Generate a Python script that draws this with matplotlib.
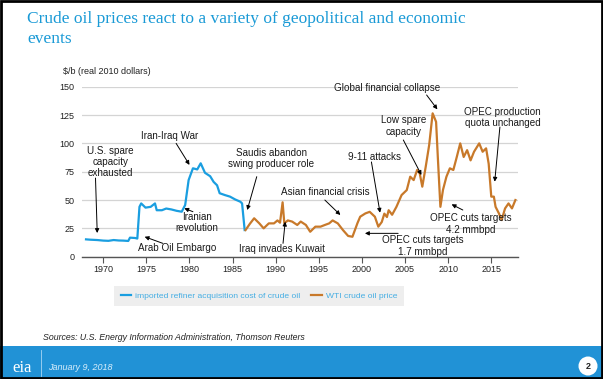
import matplotlib
matplotlib.use("Agg")
import matplotlib.pyplot as plt
from matplotlib.patches import Rectangle, Ellipse
from matplotlib.lines import Line2D

# ---------------- data ----------------
ira_years = [1968.0, 1968.5, 1969.3, 1970.0, 1970.6, 1971.2, 1971.8, 1972.3, 1972.9, 1973.1,
             1973.7, 1973.95, 1974.2, 1974.4, 1974.9, 1975.5, 1976.0, 1976.2, 1976.8, 1977.3,
             1977.9, 1978.5, 1979.1, 1979.5, 1979.9, 1980.4, 1980.9, 1981.3, 1981.8, 1982.4,
             1982.8, 1983.2, 1983.5, 1984.1, 1984.7, 1985.3, 1985.9, 1986.1, 1986.4]
ira_values = [15.3, 15.0, 14.7, 14.2, 14.0, 14.7, 14.3, 14.2, 13.9, 16.8,
              16.5, 16.0, 44.0, 47.0, 43.3, 44.0, 47.0, 41.0, 41.0, 42.5,
              41.7, 40.5, 39.7, 45.6, 67.6, 78.0, 77.0, 82.4, 74.0, 71.0,
              66.0, 63.0, 56.0, 54.4, 53.0, 50.5, 48.5, 47.0, 23.5]

wti_years = [1986.5, 1987.0, 1987.5, 1988.1, 1988.6, 1989.2, 1989.8, 1990.2, 1990.5, 1990.8,
             1991.0, 1991.4, 1991.9, 1992.5, 1992.9, 1993.5, 1994.0, 1994.6, 1995.2, 1995.7,
             1996.2, 1996.6, 1997.2, 1997.8, 1998.4, 1998.9, 1999.5, 1999.8, 2000.4, 2000.9,
             2001.5, 2001.9, 2002.3, 2002.6, 2002.9, 2003.1, 2003.5, 2004.0, 2004.6, 2005.2,
             2005.6, 2006.0, 2006.4, 2006.7, 2007.0, 2007.4, 2007.8, 2008.2, 2008.6, 2008.8,
             2009.1, 2009.4, 2009.8, 2010.2, 2010.6, 2011.0, 2011.4, 2011.8, 2012.2, 2012.6,
             2013.0, 2013.6, 2014.0, 2014.4, 2014.7, 2015.0, 2015.3, 2015.5, 2015.9, 2016.2,
             2016.6, 2017.0, 2017.4, 2017.8]
wti_values = [23.5, 29.0, 33.9, 29.4, 25.0, 29.4, 29.4, 32.0, 30.0, 48.0,
              29.4, 32.0, 31.0, 28.0, 31.0, 28.0, 22.0, 26.5, 26.5, 28.0,
              29.4, 32.0, 29.4, 23.5, 18.3, 17.6, 30.0, 35.3, 38.2, 39.6,
              35.3, 26.5, 30.6, 38.0, 35.0, 41.0, 37.0, 44.0, 54.4, 58.8,
              70.6, 67.6, 76.5, 73.5, 61.8, 79.5, 98.6, 126.5, 119.0, 88.0,
              44.0, 59.0, 70.6, 78.0, 76.5, 88.0, 100.0, 88.0, 94.0, 85.0,
              92.6, 100.0, 92.6, 95.6, 82.0, 53.0, 53.0, 44.0, 38.0, 32.3,
              42.6, 47.0, 42.6, 50.0]

x_ticks = [1970, 1975, 1980, 1985, 1990, 1995, 2000, 2005, 2010, 2015]
y_ticks = [0, 25, 50, 75, 100, 125, 150]

# (text, text position, arrow tail, arrow head)
annotations = [
    ("U.S. spare\ncapacity\nexhausted", (1970.8, 83.8), (1969.1, 69.4), (1969.3, 20.9)),
    ("Iran-Iraq War", (1977.7, 106.5), (1978.45, 100.0), (1980.0, 81.0)),
    ("Iranian\nrevolution", (1980.9, 30.4), (1980.4, 39.7), (1979.4, 42.7)),
    ("Arab Oil Embargo", (1978.6, 7.9), (1976.9, 11.8), (1974.8, 17.6)),
    ("Saudis abandon\nswing producer role", (1989.5, 86.6), (1987.8, 70.6), (1986.7, 41.2)),
    ("Iraq invades Kuwait", (1990.7, 6.8), (1990.85, 11.8), (1991.1, 30.9)),
    ("Asian financial crisis", (1995.7, 57.4), (1995.7, 50.0), (1997.5, 36.8)),
    ("9-11 attacks", (2001.5, 88.2), (2001.1, 83.6), (2002.1, 38.8)),
    ("OPEC cuts targets\n1.7 mmbpd", (2007.1, 9.4), (2004.2, 20.6), (2000.35, 20.6)),
    ("Low spare\ncapacity", (2004.8, 115.3), (2004.8, 103.0), (2006.9, 72.1)),
    ("Global financial collapse", (2002.9, 148.6), (2007.5, 142.7), (2008.75, 130.0)),
    ("OPEC production\nquota unchanged", (2016.3, 122.6), (2016.0, 114.4), (2015.4, 66.2)),
    ("OPEC cuts targets\n4.2 mmbpd", (2012.6, 28.9), (2011.7, 41.2), (2010.4, 46.2)),
]

BLUE = "#1a9ee0"
ORANGE = "#c8792a"
SANS = "Liberation Sans"

W, H = 603, 379
fig = plt.figure(figsize=(W / 100, H / 100), dpi=100)
fig.patch.set_facecolor("white")

def fx(px):
    return px / W

def fy(py):
    return 1 - py / H

ax = fig.add_axes([fx(81.7), fy(256.7), fx(518) - fx(81.7), fy(86.7) - fy(256.7)])
ax.set_xlim(1967.5, 2018.1)
ax.set_ylim(0, 150)
ax.set_yticks(y_ticks)
ax.set_xticks(x_ticks)
ax.grid(axis="y", color="#d4d4d4", lw=0.9)
ax.set_axisbelow(True)
for s in ["top", "right", "left"]:
    ax.spines[s].set_visible(False)
ax.spines["bottom"].set_color("#555555")
ax.spines["bottom"].set_linewidth(1.0)
ax.tick_params(axis="y", length=0, pad=5, labelsize=6.5, labelcolor="#222222")
ax.tick_params(axis="x", length=4, width=0.8, color="#555555", pad=2, labelsize=6.5,
               labelcolor="#222222", direction="out")
for lab in ax.get_xticklabels() + ax.get_yticklabels():
    lab.set_fontfamily(SANS)

l1, = ax.plot(ira_years, ira_values, color=BLUE, lw=1.6,
              label="imported refiner acquisition cost of crude oil")
l2, = ax.plot(wti_years, wti_values, color=ORANGE, lw=1.6, label="WTI crude oil price")

for txt, tpos, tail, head in annotations:
    ax.text(tpos[0], tpos[1], txt, ha="center", va="center", fontsize=7.1,
            family=SANS, color="#1a1a1a", linespacing=1.15)
    ax.annotate("", xy=head, xytext=tail,
                arrowprops=dict(arrowstyle="-|>", color="black", lw=0.7,
                                mutation_scale=6, shrinkA=0, shrinkB=0))

fig.text(fx(63), fy(72), "$/b (real 2010 dollars)", fontsize=6.5, family=SANS,
         color="#222222", va="center", ha="left")

leg = ax.legend(handles=[l1, l2], loc="center", bbox_to_anchor=(fx(259), fy(296)),
                bbox_transform=fig.transFigure, ncol=2, frameon=True, fancybox=False,
                facecolor="#eeeeee", edgecolor="none", framealpha=1,
                prop={"family": SANS, "size": 6.1}, handlelength=1.2,
                columnspacing=1.3, handletextpad=0.5, borderpad=0.75,
                labelcolor="#45aee3")
for ln in leg.get_lines():
    ln.set_linewidth(1.6)

# title
fig.text(fx(27), fy(23.3), "Crude oil prices react to a variety of geopolitical and economic",
         fontsize=12.5, family="Liberation Serif", color="#1a9ad6", va="baseline")
fig.text(fx(27), fy(43.3), "events",
         fontsize=12.5, family="Liberation Serif", color="#1a9ad6", va="baseline")

fig.text(fx(43), fy(337), "Sources: U.S. Energy Information Administration, Thomson Reuters",
         fontsize=6.3, family=SANS, style="italic", color="#222222", va="center")

# footer
fig.patches.append(Rectangle((0, 0), 1, fy(346), transform=fig.transFigure,
                             facecolor="#2192d6", edgecolor="none", zorder=0))
fig.add_artist(Line2D([fx(41), fx(41)], [fy(350), fy(376)], color="#a9d6f3", lw=0.6))
fig.text(fx(22), fy(368), "eia", fontsize=12, family="Liberation Serif", color="white",
         ha="center", va="center")
fig.text(fx(48), fy(367), "January 9, 2018", fontsize=6.5, family=SANS, style="italic",
         color="#d8eefb", va="center")
fig.patches.append(Ellipse((fx(588), fy(366)), 19 / W, 19 / H, transform=fig.transFigure,
                           facecolor="white", edgecolor="none", zorder=2))
fig.text(fx(588), fy(366.5), "2", fontsize=6.5, family=SANS, weight="bold",
         color="#222222", ha="center", va="center", zorder=3)

# slide border
fig.patches.append(Rectangle((0.001, 0.002), 0.997, 0.996, transform=fig.transFigure,
                             facecolor="none", edgecolor="black", lw=2.0, zorder=5))

fig.savefig("out.png", dpi=100)
